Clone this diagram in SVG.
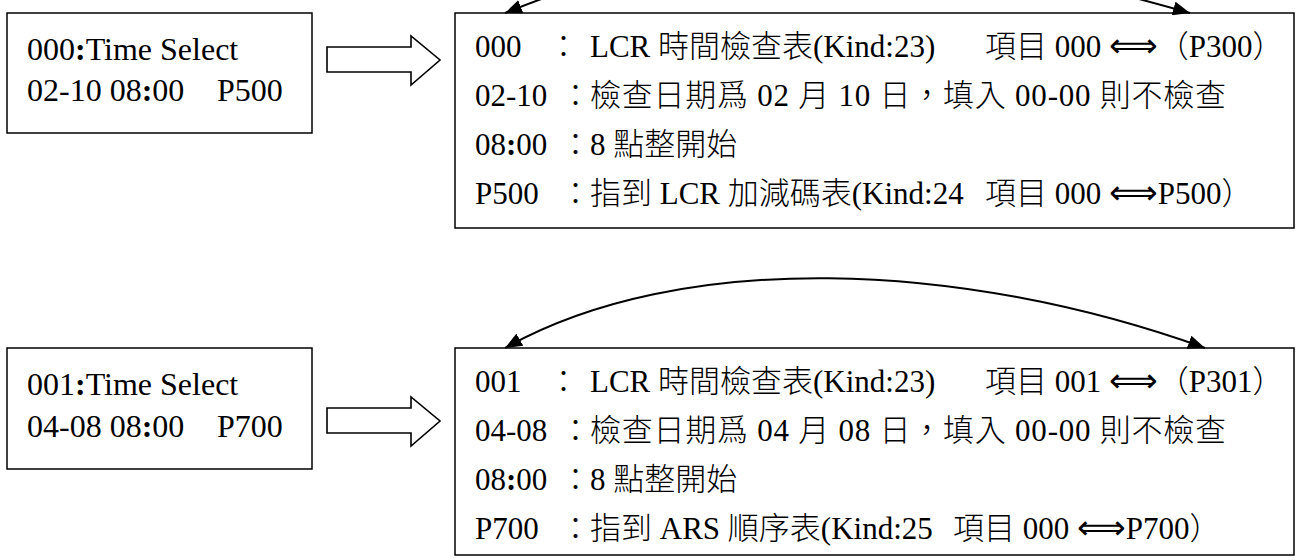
<svg xmlns="http://www.w3.org/2000/svg" width="1296" height="560" viewBox="0 0 1296 560">
<style>
.box{fill:#fff;stroke:#000;stroke-width:1.5}
.harrow{fill:#fff;stroke:#000;stroke-width:1.6;stroke-linejoin:miter}
.t{font-family:"Liberation Serif","Noto Sans CJK TC","DejaVu Sans",serif;fill:#000}
.l{font-size:32px}
.r{font-size:31px;font-weight:300}
.b{font-weight:bold}
.dar{font-size:34px;font-family:"DejaVu Sans",sans-serif;font-weight:normal}
.link{fill:none;stroke:#000;stroke-width:2}
</style>
<defs>
<marker id="ah" markerUnits="userSpaceOnUse" markerWidth="18" markerHeight="14" refX="17" refY="7" orient="auto-start-reverse">
<path d="M0,0 L17,7 L0,14 z" fill="#000"/>
</marker>
</defs>
<rect width="1296" height="560" fill="#fff"/>

<g id="sel0">
<rect class="box" x="7" y="13" width="305" height="120"/>
<text class="t l" x="27" y="60">000<tspan class="b">:</tspan>Time Select</text>
<text class="t l" y="101"><tspan x="27">02-10 08<tspan class="b">:</tspan>00</tspan><tspan x="217">P500</tspan></text>
</g>
<g id="arrow0">
<polygon class="harrow" points="327,47 411,47 411,36 440,60 411,85 411,72 327,72"/>
</g>
<g id="desc0">
<rect class="box" x="455" y="13" width="839" height="215"/>
<text class="t r" y="57"><tspan x="475">000</tspan><tspan x="548">：</tspan><tspan x="590">LCR 時間檢查表(Kind:23)</tspan><tspan x="985">項目 000 </tspan><tspan class="dar">⟺</tspan><tspan>（P300）</tspan></text>
<text class="t r" y="106"><tspan x="475">02-10</tspan><tspan x="560">：</tspan><tspan x="590" textLength="636" lengthAdjust="spacing">檢查日期爲 02 月 10 日，填入 00-00 則不檢查</tspan></text>
<text class="t r" y="155"><tspan x="475">08<tspan class="b">:</tspan>00</tspan><tspan x="560">：</tspan><tspan x="590">8 點整開始</tspan></text>
<text class="t r" y="204"><tspan x="475">P500</tspan><tspan x="560">：</tspan><tspan x="590">指到 LCR 加減碼表(Kind:24</tspan><tspan x="985">項目 000 </tspan><tspan class="dar">⟺</tspan><tspan>P500）</tspan></text>
</g>

<g id="sel1">
<rect class="box" x="7" y="348" width="305" height="121"/>
<text class="t l" x="27" y="395">001<tspan class="b">:</tspan>Time Select</text>
<text class="t l" y="437"><tspan x="27">04-08 08<tspan class="b">:</tspan>00</tspan><tspan x="217">P700</tspan></text>
</g>
<g id="arrow1">
<polygon class="harrow" points="327,408 411,408 411,397 440,421 411,446 411,433 327,433"/>
</g>
<g id="desc1">
<rect class="box" x="455" y="348" width="839" height="207"/>
<text class="t r" y="392"><tspan x="475">001</tspan><tspan x="548">：</tspan><tspan x="590">LCR 時間檢查表(Kind:23)</tspan><tspan x="985">項目 001 </tspan><tspan class="dar">⟺</tspan><tspan>（P301）</tspan></text>
<text class="t r" y="441"><tspan x="475">04-08</tspan><tspan x="560">：</tspan><tspan x="590" textLength="636" lengthAdjust="spacing">檢查日期爲 04 月 08 日，填入 00-00 則不檢查</tspan></text>
<text class="t r" y="490"><tspan x="475">08<tspan class="b">:</tspan>00</tspan><tspan x="560">：</tspan><tspan x="590">8 點整開始</tspan></text>
<text class="t r" y="539"><tspan x="475">P700</tspan><tspan x="560">：</tspan><tspan x="590">指到 ARS 順序表(Kind:25</tspan><tspan x="953">項目 000 </tspan><tspan class="dar">⟺</tspan><tspan>P700）</tspan></text>
</g>

<g id="connectors">
<path class="link" d="M505,13 C755,-87 890,-71 1190,13" marker-start="url(#ah)" marker-end="url(#ah)"/>
<path class="link" d="M505,348 C680,250 960,260 1205,348" marker-start="url(#ah)" marker-end="url(#ah)"/>
</g>
</svg>
